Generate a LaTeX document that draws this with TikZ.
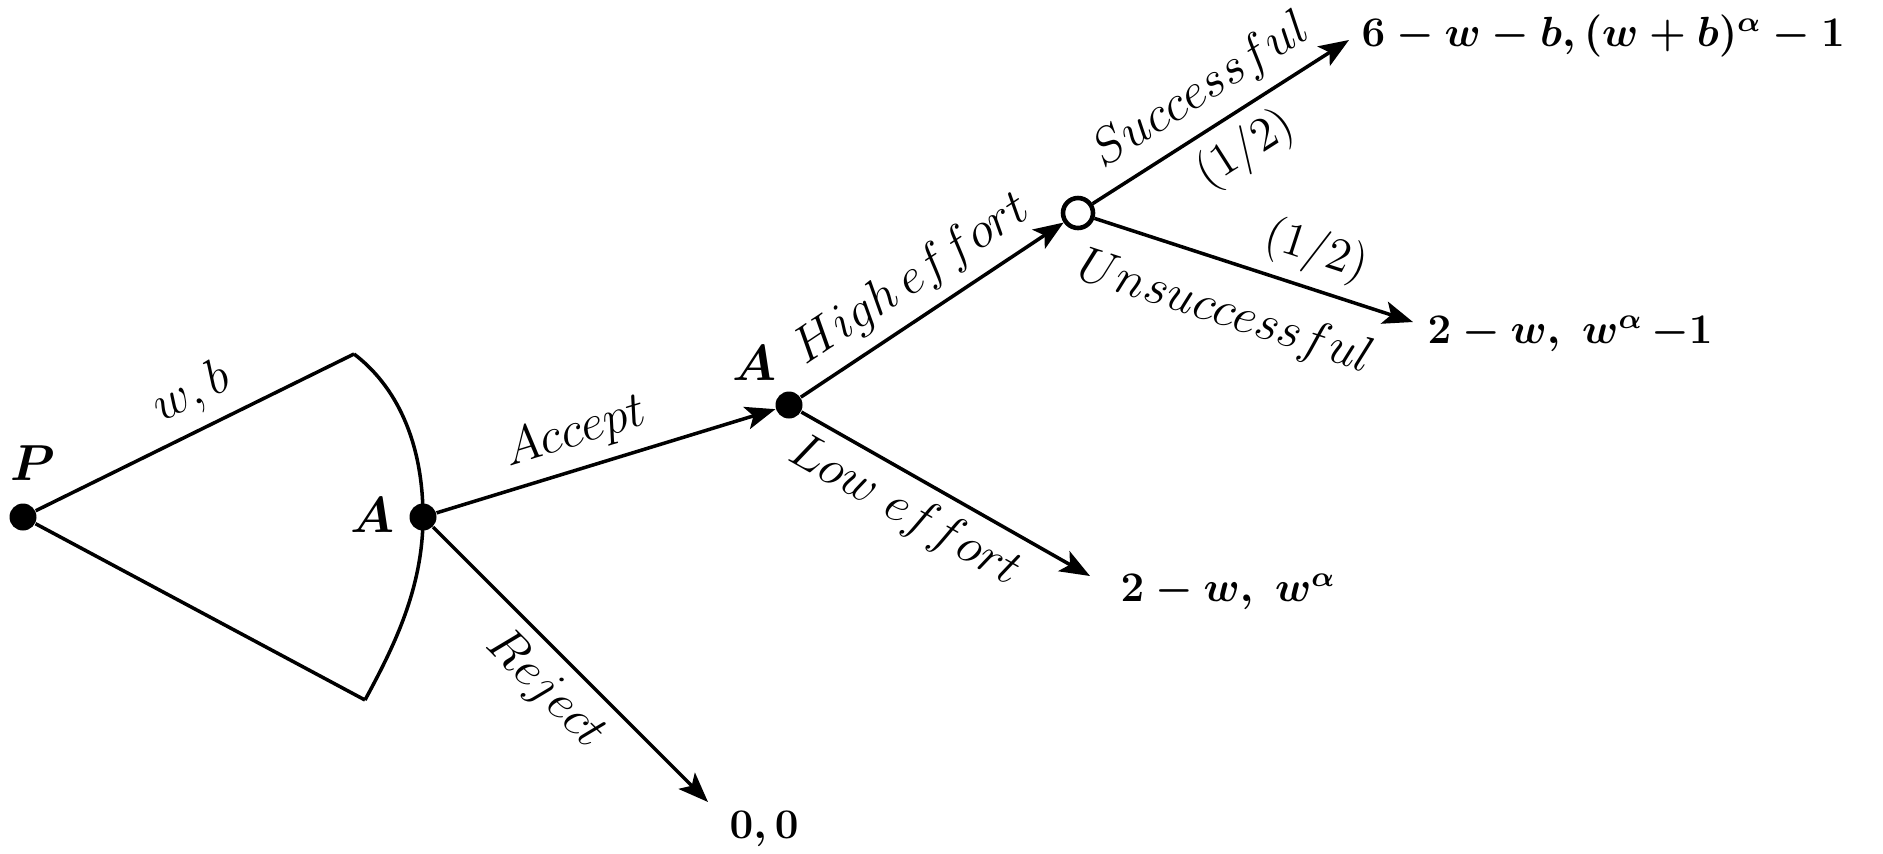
\documentclass[tikz,border=0pt]{standalone}
\usetikzlibrary{arrows.meta,positioning}
\tikzset{
  >={Stealth[length=3mm,width=2.3mm,inset=0.7mm]},
  dec/.style={circle,fill=black,inner sep=0pt,minimum size=2.7mm},
  chance/.style={circle,draw=black,fill=white,line width=1.3pt,inner sep=0pt,minimum size=3mm},
  move/.style={line width=1pt},
  act/.style={font=\fontsize{13.5}{15}\selectfont},
  prob/.style={font=\fontsize{13.5}{15}\selectfont},
  who/.style={font=\fontsize{14.4}{16}\selectfont\boldmath},
  pay/.style={font=\fontsize{12}{14}\selectfont\boldmath,anchor=west,inner sep=0pt},
}

\begin{document}
\begin{tikzpicture}[x=0.1mm,y=-0.1mm]
  \useasboundingbox (0,0) rectangle (1883,853);
  % principal offers the contract
  \node[dec] (p) at (23,517) {};
  \node[who] (plab) at (33,463) {$P$};
  \node[dec] (a1) at (423,517) {};
  \node[who] (a1lab) at (372,515) {$A$};
  \coordinate (up) at (354,354);
  \coordinate (lo) at (365,700);
  \draw[move] (lo) -- (p) -- node[act,sloped,above,pos=0.54] {$w,b$} (up);
  \draw[move] (up) .. controls (395,385) and (423,440) .. (a1.center)
    .. controls (423,590) and (392,650) .. (lo);
  % agent accepts or rejects
  \node[dec] (a2) at (789,405) {};
  \node[who] (a2lab) at (754,363) {$A$};
  \draw[move,->] (a1) -- node[act,sloped,above,pos=0.44] {$Accept$} (a2);
  \coordinate (trej) at (708,802);
  \draw[move,->] (a1) -- node[act,sloped,below] {$Reject$} (trej);
  \node[pay] (prej) at (729,829) {$0,0$};
  % effort choice
  \node[chance] (c) at (1078,213) {};
  \draw[move,->] (a2) -- node[act,sloped,above] {$High\,effort$} (c);
  \coordinate (tlow) at (1090,576);
  \draw[move,->] (a2) -- node[act,sloped,below,pos=0.42] {$Low\ effort$} (tlow);
  \node[pay] (plow) at (1120,592) {$2-w,\ w^{\alpha}$};
  % nature
  \coordinate (tsuc) at (1349,40);
  \draw[move,->] (c) -- node[act,sloped,above,pos=0.5] {$Successful$}
    node[prob,sloped,below,pos=0.52] {(1/2)} (tsuc);
  \node[pay] (psuc) at (1361,36) {$6-w-b,(w+b)^{\alpha}-1$};
  \coordinate (tuns) at (1413,322);
  \draw[move,->] (c) -- node[act,sloped,below=4pt,pos=0.46] {$Unsuccessful$}
    node[prob,sloped,above,pos=0.66] {(1/2)} (tuns);
  \node[pay] (puns) at (1427,334) {$2-w,\ w^{\alpha}\,{-}1$};
\end{tikzpicture}
\end{document}
